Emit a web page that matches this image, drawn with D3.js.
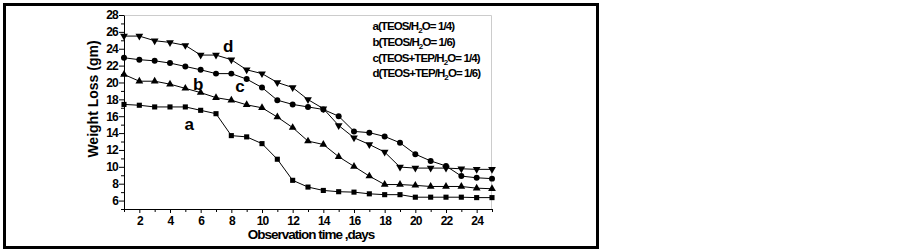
<!DOCTYPE html>
<html lang="en">
<head>
  <meta charset="UTF-8">
  <title>Weight Loss</title>
  <script src="https://cdn.jsdelivr.net/npm/d3@7"></script>
</head>
<style>
  body { margin: 0; background: #fff; }
  text { font-family: "Liberation Sans", Arial, sans-serif; font-weight: bold; }
</style>
<body>
  <svg width="902" height="250"></svg>
</body>
<script>
  const svg = d3.select("svg");

  // data
  const days = d3.range(1, 26);
  const seriesA = [17.4, 17.3, 17.1, 17.1, 17.1, 16.7, 16.3, 13.7, 13.55, 12.75, 10.9, 8.4, 7.6, 7.2, 7.05, 7.0, 6.8, 6.7, 6.7, 6.4, 6.4, 6.4, 6.4, 6.35, 6.35];
  const seriesB = [20.95, 20.15, 20.15, 19.8, 19.3, 18.8, 18.2, 17.9, 17.35, 17.0, 15.9, 14.65, 13.05, 12.65, 11.2, 10.05, 8.9, 7.9, 7.9, 7.8, 7.67, 7.67, 7.67, 7.47, 7.4];
  const seriesC = [22.93, 22.7, 22.57, 22.3, 21.9, 21.5, 21.05, 21.05, 20.4, 19.4, 17.9, 17.4, 17.1, 16.8, 16.0, 14.2, 14.05, 13.6, 12.85, 11.5, 10.7, 10.1, 8.9, 8.7, 8.6];
  const seriesD = [25.5, 25.5, 24.95, 24.75, 24.4, 23.25, 23.25, 22.7, 21.5, 21.05, 20.0, 19.4, 17.97, 16.9, 14.9, 13.45, 12.65, 11.75, 9.97, 9.85, 9.85, 9.85, 9.77, 9.7, 9.7];
  const seriesNames = ["a", "b", "c", "d"];
  const legendMain = ["TEOS/H", "TEOS/H", "TEOS+TEP/H", "TEOS+TEP/H"];
  const legendRatio = ["1/4", "1/6", "1/4", "1/6"];
  const xTicks = [2, 4, 6, 8, 10, 12, 14, 16, 18, 20, 22, 24];
  const yTicks = [6, 8, 10, 12, 14, 16, 18, 20, 22, 24, 26, 28];

  const margin = { top: 15, left: 124 };
  const innerWidth = 368;
  const innerHeight = 194;

  // outer frame
  svg.append("rect")
    .attr("x", 4.5).attr("y", 4.5)
    .attr("width", 593).attr("height", 243)
    .attr("fill", "none").attr("stroke", "#000").attr("stroke-width", 3);

  const g = svg.append("g")
    .attr("transform", `translate(${margin.left},${margin.top})`);

  const x = d3.scaleLinear().domain([1, 25]).range([0, innerWidth]);
  const y = d3.scaleLinear().domain([5, 28]).range([innerHeight, 0]);

  // light frame top/right
  g.append("path")
    .attr("d", `M0,0.5H${innerWidth - 0.5}V${innerHeight}`)
    .attr("fill", "none").attr("stroke", "#ccc");

  // minor ticks
  const xMinor = g.append("g").attr("transform", `translate(0,${innerHeight})`)
    .call(d3.axisBottom(x).tickValues(d3.range(1, 26, 2)).tickSize(3).tickFormat(""));
  const yMinor = g.append("g")
    .call(d3.axisLeft(y).tickValues(d3.range(5, 29, 2)).tickSize(3).tickFormat(""));
  xMinor.select(".domain").remove();
  yMinor.select(".domain").remove();

  const xAxis = g.append("g").attr("transform", `translate(0,${innerHeight})`)
    .call(d3.axisBottom(x).tickValues(xTicks).tickSize(4).tickSizeOuter(0).tickPadding(3));
  const yAxis = g.append("g")
    .call(d3.axisLeft(y).tickValues(yTicks).tickSize(5).tickSizeOuter(0).tickPadding(1));

  svg.selectAll(".tick line").attr("stroke", "#000");
  svg.selectAll(".domain").attr("stroke", "#000");
  xAxis.selectAll("text").attr("font-size", 12).attr("font-family", null).attr("letter-spacing", -0.8);
  yAxis.selectAll("text").attr("font-size", 12).attr("font-family", null).attr("letter-spacing", -0.8);

  // axis titles
  g.append("text")
    .attr("transform", `translate(-26,${innerHeight / 2 - 13}) rotate(-90)`)
    .attr("text-anchor", "middle")
    .attr("font-size", 14)
    .text("Weight Loss (gm)");

  g.append("text")
    .attr("x", x(9) + 1).attr("y", innerHeight + 30)
    .attr("font-size", 13.5).attr("letter-spacing", -1)
    .text("Observation time ,days");

  // series
  const all = [seriesA, seriesB, seriesC, seriesD].map((vals, i) =>
    vals.map((v, j) => ({ day: days[j], value: v, key: seriesNames[i] })));

  const line = d3.line().x(d => x(d.day)).y(d => y(d.value));

  const symbols = {
    a: d3.symbol().type(d3.symbolSquare).size(26),
    b: d3.symbol().type(d3.symbolTriangle).size(26),
    c: d3.symbol().type(d3.symbolCircle).size(28),
    d: d3.symbol().type(d3.symbolTriangle).size(26)
  };

  const serie = g.selectAll(".serie").data(all).join("g").attr("class", "serie");

  serie.append("path")
    .attr("d", line)
    .attr("fill", "none")
    .attr("stroke", "#000")
    .attr("stroke-width", 1);

  serie.selectAll(".pt")
    .data(d => d)
    .join("path")
    .attr("class", "pt")
    .attr("d", d => symbols[d.key]())
    .attr("transform", d => `translate(${x(d.day)},${y(d.value)})` + (d.key === "d" ? " rotate(180)" : ""))
    .attr("fill", "#000");

  // curve labels
  const labelPos = { a: [4.95, 14.35], b: [5.5, 19.1], c: [8.25, 18.85], d: [7.45, 23.6] };
  g.selectAll(".clabel")
    .data(seriesNames)
    .join("text")
    .attr("class", "clabel")
    .attr("x", d => x(labelPos[d][0]))
    .attr("y", d => y(labelPos[d][1]))
    .attr("font-size", 17)
    .text(d => d);

  // legend
  const legend = g.append("g").attr("transform", `translate(${x(17.2)},0)`);
  seriesNames.forEach((n, i) => {
    const t = legend.append("text")
      .attr("y", 15 + i * 15.8)
      .attr("font-size", 11.5)
      .attr("letter-spacing", -0.9);
    t.append("tspan").text(`${n}(${legendMain[i]}`);
    t.append("tspan").attr("font-size", 8).attr("dy", 3).text("2");
    t.append("tspan").attr("dy", -3).text(`O= ${legendRatio[i]})`);
  });
</script>
</html>
